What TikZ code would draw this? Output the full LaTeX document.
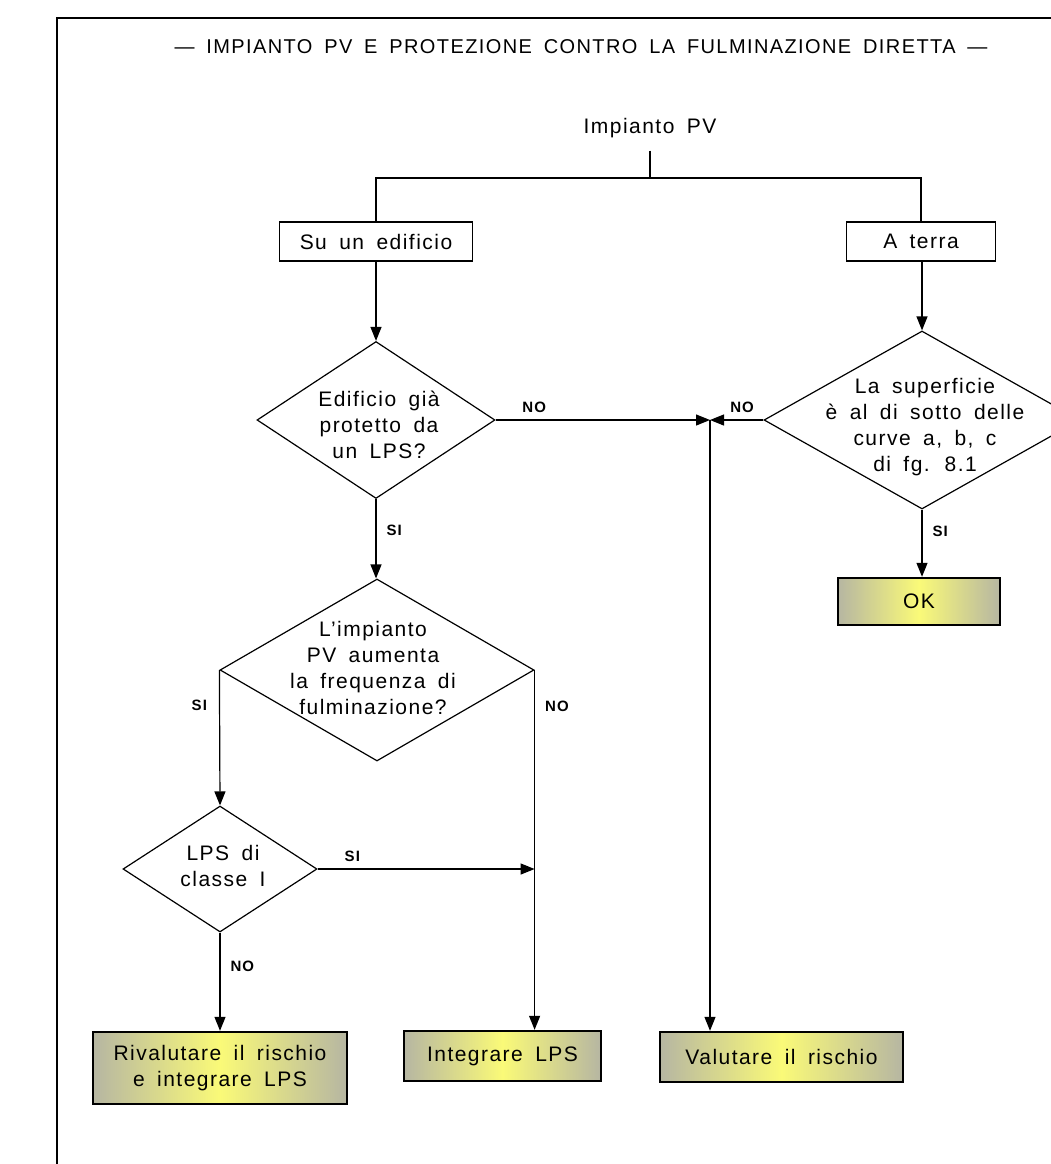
\documentclass[tikz,border=0pt]{standalone}
\usepackage{fontspec}
\newfontfamily\cadfont[LetterSpace=7,WordSpace=1.7]{Liberation Sans}
\usetikzlibrary{shapes.geometric,arrows.meta}
\definecolor{shgray}{RGB}{182,182,162}
\definecolor{shyel}{RGB}{250,250,120}

\begin{document}
\begin{tikzpicture}[x=1pt,y=-1pt,>={Triangle[length=14pt,width=11pt]},line width=1.2pt,
    txt/.style={font=\cadfont\fontsize{21}{26}\selectfont,align=center},
    lbl/.style={font=\cadfont\bfseries\fontsize{15}{17}\selectfont,inner sep=2pt},
    box/.style={txt,draw,minimum height=39pt,inner sep=0pt},
    res/.style={txt,draw,line width=2.4pt,left color=shgray,right color=shgray,middle color=shyel,inner sep=0pt},
    dia/.style={diamond,draw,inner sep=0pt}]
        \clip (0,0) rectangle (1051,1164);
        % cornice
        \draw (57,1164)--(57,18)--(1051,18);
        \node[txt,font=\cadfont\fontsize{20}{24}\selectfont] (titolo) at (581,47) {— IMPIANTO PV E PROTEZIONE CONTRO LA FULMINAZIONE DIRETTA —};
        \node[txt] (pv) at (650,128) {Impianto PV};
        \coordinate (split) at (650,178);
        \node[box,minimum width=193pt] (edif) at (376,241.5) {Su un edificio};
        \node[box,minimum width=149pt] (terra) at (921,241.5) {A terra};
        \draw ([yshift=-9pt]pv.south)--(split);
        \draw (edif.north)|-(split)-|(terra.north);
        % rombi
        \node[dia,minimum width=238pt,minimum height=157pt] (dprot) at (376,420) {};
        \node[dia,minimum width=316pt,minimum height=178pt] (dsup) at (922,420) {};
        \node[dia,minimum width=314pt,minimum height=182pt] (dpv) at (377,670) {};
        \node[dia,minimum width=194pt,minimum height=126pt] (dcl) at (220,869) {};
        \node[txt] (tprot) at (379,425) {Edificio già\\protetto da\\un LPS?};
        \node[txt] (tsup) at (925,427) {La superficie\\è al di sotto delle\\curve a, b, c\\di fg. 8.1};
        \node[txt] (tpv) at (373,668) {L’impianto\\PV aumenta\\la frequenza di\\fulminazione?};
        \node[txt] (tcl) at (223,866) {LPS di\\classe I};
        % esiti
        \node[res,minimum width=162pt,minimum height=47pt] (ok) at (919,601.5) {OK};
        \node[res,minimum width=254pt,minimum height=72pt] (riv) at (220,1068) {Rivalutare il rischio\\e integrare LPS};
        \node[res,minimum width=197pt,minimum height=50pt] (integ) at (502.5,1056) {Integrare LPS};
        \node[res,minimum width=243pt,minimum height=50pt] (valut) at (781.5,1057) {Valutare il rischio};
        \coordinate (jn) at (710,420);
        % collegamenti
        \draw[->] (edif.south)--(dprot.north);
        \draw[->] (terra.south-|dsup.north)--(dsup.north);
        \draw[->] (dprot.east)--node[lbl,pos=.18,above=5pt]{NO}(jn);
        \draw[->] (dsup.west)--node[lbl,pos=.4,above=5pt]{NO}(jn);
        \draw[->] (jn)--(jn|-valut.north);
        \draw[->] (dsup.south)--node[lbl,pos=.33,right=8pt]{SI}(dsup.south|-ok.north);
        \draw[->] (dprot.south)--node[lbl,pos=.39,right=8pt]{SI}(dpv.north-|dprot.south);
        \draw[->] (dpv.west)--node[lbl,pos=.26,left=10pt]{SI}(dcl.north);
        \draw[->] (dpv.east)--node[lbl,pos=.1,right=8pt]{NO}(dpv.east|-integ.north);
        \draw[->] (dcl.east)--node[lbl,pos=.16,above=5pt]{SI}(dcl.east-|dpv.east);
        \draw[->] (dcl.south)--node[lbl,pos=.34,right=8pt]{NO}(riv.north);
    \end{tikzpicture}
\end{document}
